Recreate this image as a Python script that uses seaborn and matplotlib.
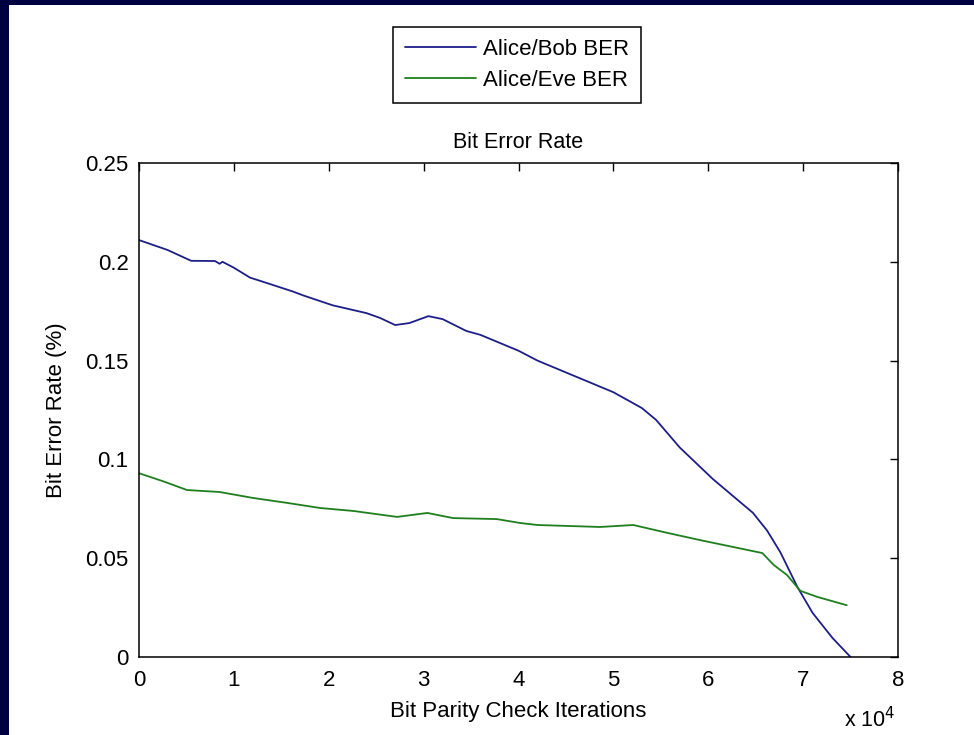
import matplotlib
matplotlib.use("Agg")
from matplotlib import pyplot as plt
from matplotlib.patches import Rectangle
from matplotlib.ticker import FuncFormatter
import pandas as pd
import seaborn as sns

# Alice/Bob BER
bob_iter = [0, 3000, 5500, 8000, 8500, 8800, 10000, 11700, 13000, 16200, 17300,
            20400, 24000, 25400, 27000, 28500, 30500, 32000, 34500, 36000,
            40000, 42000, 45000, 50000, 53000, 54500, 57000, 60500, 64700,
            66200, 67600, 69400, 71000, 73100, 75000]
bob_ber = [0.211, 0.206, 0.2005, 0.2004, 0.199, 0.2, 0.197, 0.192, 0.190, 0.185,
           0.183, 0.178, 0.174, 0.1716, 0.168, 0.169, 0.1725, 0.171, 0.165, 0.163,
           0.155, 0.150, 0.144, 0.134, 0.126, 0.120, 0.106, 0.090, 0.073,
           0.064, 0.053, 0.0354, 0.0223, 0.0096, 0.0]

# Alice/Eve BER
eve_iter = [0, 2500, 5060, 8500, 12000, 15600, 19100, 22600, 27200, 30400,
            33100, 37700, 40200, 42000, 48600, 52100, 55700, 59100, 62600,
            65700, 66900, 68300, 69700, 71500, 74600]
eve_ber = [0.093, 0.089, 0.0845, 0.0835, 0.0805, 0.078, 0.0754, 0.0739, 0.0709,
           0.0729, 0.0703, 0.0698, 0.0678, 0.0668, 0.0658, 0.0668, 0.0628,
           0.0592, 0.0557, 0.0526, 0.0466, 0.0415, 0.0335, 0.0304, 0.0262]

BOB_COLOR = "#1e1e88"
EVE_COLOR = "#1f7f1f"
BG = "#000040"

sns.set_style("white")
plt.rcParams["font.family"] = ["Liberation Sans", "DejaVu Sans"]
plt.rcParams["text.color"] = "black"
plt.rcParams["axes.labelcolor"] = "black"

fig = plt.figure(figsize=(9.74, 7.35), dpi=100, facecolor=BG)
fig.patches.append(Rectangle((9 / 974, 0), 1, 1 - 5 / 735, transform=fig.transFigure,
                             facecolor="white", edgecolor="none", zorder=-5))

ax = fig.add_axes([139 / 974, 1 - 657 / 735, 759 / 974, 494 / 735])
ax.set_facecolor("white")

df_bob = pd.DataFrame({"iter": bob_iter, "ber": bob_ber})
df_eve = pd.DataFrame({"iter": eve_iter, "ber": eve_ber})
sns.lineplot(data=df_bob, x="iter", y="ber", ax=ax, color=BOB_COLOR, lw=1.3,
             label="Alice/Bob BER")
sns.lineplot(data=df_eve, x="iter", y="ber", ax=ax, color=EVE_COLOR, lw=1.3,
             label="Alice/Eve BER")

ax.set_xlim(0, 80000)
ax.set_ylim(0, 0.25)
ax.set_xticks(range(0, 80001, 10000))
ax.set_yticks([0, 0.05, 0.1, 0.15, 0.2, 0.25])
ax.xaxis.set_major_formatter(FuncFormatter(lambda v, p: f"{v / 1e4:g}"))
ax.yaxis.set_major_formatter(FuncFormatter(lambda v, p: f"{v:g}"))
ax.tick_params(direction="in", length=6, width=1, top=True, right=True,
               labelsize=16, colors="black")
ax.tick_params(axis="x", pad=9.5)
ax.tick_params(axis="y", pad=7.5)
for s in ax.spines.values():
    s.set_color("black")
    s.set_linewidth(1.1)

ax.set_title("Bit Error Rate", fontsize=15.5, pad=11, color="black")
ax.set_xlabel("Bit Parity Check Iterations", fontsize=16)
ax.set_ylabel("Bit Error Rate (%)", fontsize=16)
ax.xaxis.set_label_coords(0.5, -0.089)
ax.yaxis.set_label_coords(-0.095, 0.5)
ax.text(0.996, -0.126, "x 10$^4$", transform=ax.transAxes, ha="right", va="center",
        fontsize=15.5)

ax.get_legend().remove()
handles, labels = ax.get_legend_handles_labels()
leg = fig.legend(handles, labels, loc="center", bbox_to_anchor=(517 / 974, 1 - 65 / 735),
                 fontsize=16, frameon=True, fancybox=False, framealpha=1,
                 handlelength=3.2, handletextpad=0.3, borderpad=0.55, labelspacing=0.45)
leg.get_frame().set_edgecolor("black")
leg.get_frame().set_linewidth(1.1)
for t in leg.get_texts():
    t.set_color("black")

plt.savefig("out.png", dpi=100, facecolor=BG)
plt.close()
